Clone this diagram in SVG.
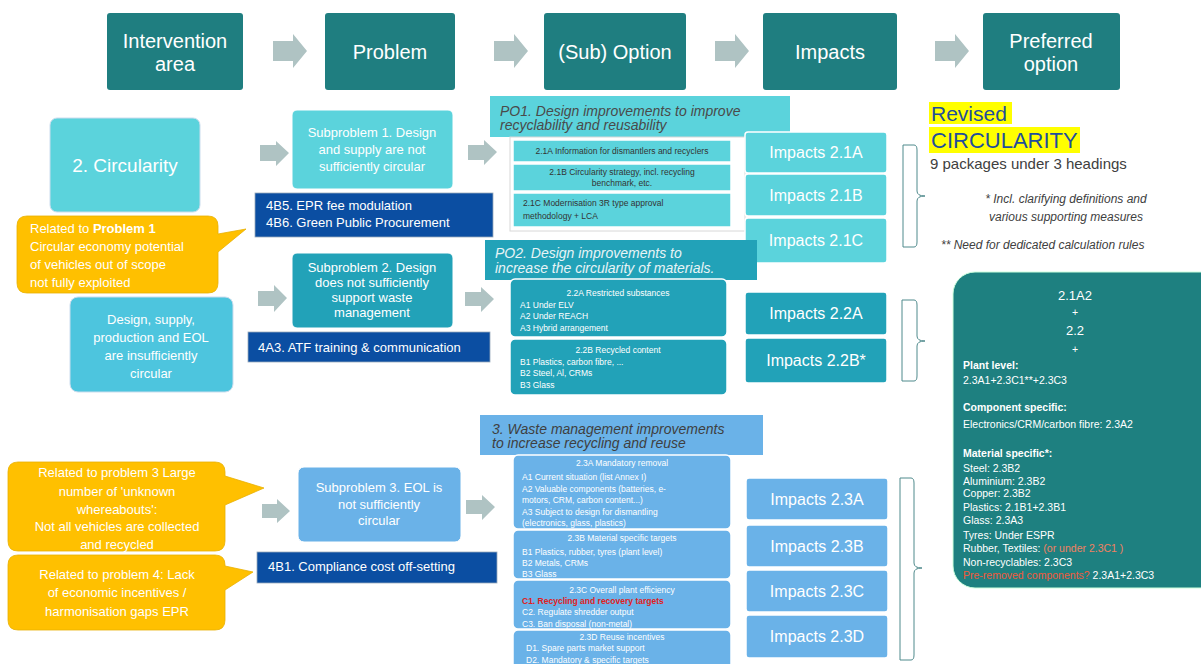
<svg xmlns="http://www.w3.org/2000/svg" width="1201" height="664" viewBox="0 0 1201 664">
<style>
text{font-family:"Liberation Sans",Arial,sans-serif;}
.hdr{fill:#1F7E80;}
.ht{fill:#fff;font-size:20px;text-anchor:middle;}
.arr{fill:#AFC3C3;}
.cy{fill:#5BD3DC;}
.md{fill:#22A2B8;}
.lb{fill:#6AB2E8;}
.db{fill:#0B4EA2;stroke:#9ab;stroke-width:0.8;}
.or{fill:#FFC000;stroke:#E8B000;stroke-width:0.8;}
.wt{fill:#fff;font-size:13px;}
.c{text-anchor:middle;}
.opt{stroke:#fff;stroke-width:1.5;}
.ot{font-size:8.5px;fill:#fff;}
.otd{font-size:8.5px;fill:#333;}
.red{font-size:8.5px;fill:#E02020;font-weight:bold;}
.imp{stroke:#fff;stroke-width:1.5;}
.it{fill:#fff;font-size:16px;text-anchor:middle;}
.po{font-size:14px;font-style:italic;}
.br{fill:none;stroke:#4F8A8C;stroke-width:1;}
.pt{fill:#fff;font-size:10.5px;}
.b{font-weight:bold;}
</style>

<g id="header">
<g id="h-intervention"><rect class="hdr" x="107" y="13" width="136" height="77" rx="3"/><text class="ht" x="175" y="48">Intervention</text><text class="ht" x="175" y="71">area</text></g>
<g id="h-problem"><rect class="hdr" x="325" y="13" width="130" height="77" rx="3"/><text class="ht" x="390" y="59">Problem</text></g>
<g id="h-option"><rect class="hdr" x="544" y="13" width="142" height="77" rx="3"/><text class="ht" x="615" y="59">(Sub) Option</text></g>
<g id="h-impacts"><rect class="hdr" x="763" y="13" width="134" height="77" rx="3"/><text class="ht" x="830" y="59">Impacts</text></g>
<g id="h-preferred"><rect class="hdr" x="983" y="13" width="137" height="77" rx="3"/><text class="ht" x="1051" y="48">Preferred</text><text class="ht" x="1051" y="71">option</text></g>
</g>

<g id="connectors">
<polygon class="arr" points="273,41 293,41 293,34 307,51 293,68 293,61 273,61"/>
<polygon class="arr" points="494,41 514,41 514,34 528,51 514,68 514,61 494,61"/>
<polygon class="arr" points="715,41 735,41 735,34 749,51 735,68 735,61 715,61"/>
<polygon class="arr" points="935,41 955,41 955,34 969,51 955,68 955,61 935,61"/>
<polygon class="arr" points="260,145 276,145 276,141 289,153 276,166 276,161 260,161"/>
<polygon class="arr" points="468,145 484,145 484,140 497,152 484,165 484,160 468,160"/>
<polygon class="arr" points="258,291 274,291 274,285 287,298 274,312 274,306 258,306"/>
<polygon class="arr" points="465,292 481,292 481,287 494,299 481,312 481,306 465,306"/>
<polygon class="arr" points="262,504 277,504 277,499 290,511 277,523 277,518 262,518"/>
<polygon class="arr" points="466,500 482,500 482,495 495,507 482,520 482,514 466,514"/>
<path class="br" d="M914,145 L903,145 L903,247 L914,247 M914,145 Q917,145 917,150 L917,191 Q917,196 925,196 Q917,196 917,201 L917,242 Q917,247 914,247"/>
<path class="br" d="M914,300 L902,300 L902,381 L914,381 M914,300 Q917,300 917,305 L917,336 Q917,341 925,341 Q917,341 917,346 L917,376 Q917,381 914,381"/>
<path class="br" d="M911,478 L900,478 L900,660 L911,660 M911,478 Q914,478 914,483 L914,563 Q914,568 922,568 Q914,568 914,573 L914,655 Q914,660 911,660"/>
</g>

<g id="circularity"><rect x="50" y="118" width="150" height="94" rx="7" fill="#5BD3DC" stroke="#cde" stroke-width="1"/><text class="wt c" x="125" y="172" style="font-size:19px">2. Circularity</text></g>

<g id="callout1"><path class="or" d="M27,216 H208 Q218,216 218,226 V234 L246,229 L218,252 V283 Q218,293 208,293 H27 Q17,293 17,283 V226 Q17,216 27,216 Z"/>
<text class="wt" x="30" y="233">Related to <tspan class="b">Problem 1</tspan></text>
<text class="wt" x="30" y="251">Circular economy potential</text>
<text class="wt" x="30" y="269">of vehicles out of scope</text>
<text class="wt" x="30" y="287">not fully exploited</text></g>

<g id="design-supply"><rect x="70" y="297" width="163" height="95" rx="8" fill="#4DC5DE" stroke="#cde" stroke-width="1"/>
<text class="wt c" x="151" y="324">Design, supply,</text><text class="wt c" x="151" y="342">production and EOL</text><text class="wt c" x="151" y="360">are insufficiently</text><text class="wt c" x="151" y="378">circular</text></g>

<g id="subproblem1"><rect class="cy" x="292" y="110" width="161" height="79" rx="5" stroke="#fff" stroke-width="1"/>
<text class="wt c" x="372" y="137">Subproblem 1. Design</text><text class="wt c" x="372" y="154">and supply are not</text><text class="wt c" x="372" y="171">sufficiently circular</text></g>
<g id="m-4b5"><rect class="db" x="255" y="193" width="238" height="44"/><text class="wt" x="266" y="210">4B5. EPR fee modulation</text><text class="wt" x="266" y="227">4B6. Green Public Procurement</text></g>

<g id="subproblem2"><rect class="md" x="292" y="253" width="161" height="75" rx="5" stroke="#fff" stroke-width="1"/>
<text class="wt c" x="372" y="272">Subproblem 2. Design</text><text class="wt c" x="372" y="287">does not sufficiently</text><text class="wt c" x="372" y="302">support waste</text><text class="wt c" x="372" y="317">management</text></g>
<g id="m-4a3"><rect class="db" x="248" y="332" width="242" height="30"/><text class="wt" x="258" y="352">4A3. ATF training &amp; communication</text></g>

<g id="callout3"><path class="or" d="M18,462 H215 Q225,462 225,472 V476 L264,488 L225,505 V541 Q225,551 215,551 H18 Q8,551 8,541 V472 Q8,462 18,462 Z"/>
<text class="wt c" x="117" y="477">Related to problem 3 Large</text>
<text class="wt c" x="117" y="496">number of 'unknown</text>
<text class="wt c" x="117" y="514">whereabouts':</text>
<text class="wt c" x="117" y="531">Not all vehicles are collected</text>
<text class="wt c" x="117" y="549">and recycled</text></g>
<g id="callout4"><path class="or" d="M18,555 H215 Q225,555 225,565 V566 L253,572 L225,590 V620 Q225,630 215,630 H18 Q8,630 8,620 V565 Q8,555 18,555 Z"/>
<text class="wt c" x="117" y="579">Related to problem 4: Lack</text>
<text class="wt c" x="117" y="597">of economic incentives /</text>
<text class="wt c" x="117" y="616">harmonisation gaps EPR</text></g>

<g id="subproblem3"><rect class="lb" x="298" y="467" width="163" height="75" rx="6" stroke="#fff" stroke-width="1"/>
<text class="wt c" x="379" y="492">Subproblem 3. EOL is</text><text class="wt c" x="379" y="509">not sufficiently</text><text class="wt c" x="379" y="525">circular</text></g>
<g id="m-4b1"><rect class="db" x="257" y="552" width="240" height="31"/><text class="wt" x="268" y="571">4B1. Compliance cost off-setting</text></g>

<g id="po1"><rect class="cy" x="490" y="96" width="300" height="41"/>
<text class="po" x="500" y="116" fill="#4A4A4A">PO1. Design improvements to improve</text>
<text class="po" x="500" y="130" fill="#4A4A4A">recyclability and reusability</text></g>
<g id="o21"><rect x="510" y="137" width="235" height="94" fill="#fff" stroke="#d8d8d8" stroke-width="1"/>
<rect class="cy opt" x="513" y="140" width="218" height="22"/><text class="otd c" x="622" y="154">2.1A Information for dismantlers and recyclers</text>
<rect class="cy opt" x="513" y="164" width="218" height="27"/><text class="otd c" x="622" y="175">2.1B Circularity strategy, incl. recycling</text><text class="otd c" x="622" y="186">benchmark, etc.</text>
<rect class="cy opt" x="513" y="193" width="218" height="34"/><text class="otd" x="523" y="206">2.1C Modernisation 3R type approval</text><text class="otd" x="523" y="219">methodology + LCA</text></g>

<g id="imp21"><rect class="cy imp" x="745" y="132" width="142" height="41" rx="3"/><text class="it" x="816" y="158">Impacts 2.1A</text>
<rect class="cy imp" x="745" y="174" width="142" height="42" rx="3"/><text class="it" x="816" y="201">Impacts 2.1B</text>
<rect class="cy imp" x="745" y="218" width="142" height="45" rx="3"/><text class="it" x="816" y="246">Impacts 2.1C</text></g>

<g id="po2"><rect class="md" x="485" y="240" width="272" height="40"/>
<text class="po" x="495" y="258" fill="#E8F4F6">PO2. Design improvements to</text>
<text class="po" x="495" y="273" fill="#E8F4F6">increase the circularity of materials.</text></g>
<g id="o22"><rect class="md opt" x="510" y="279" width="217" height="58" rx="5"/>
<text class="ot c" x="618" y="296">2.2A Restricted substances</text>
<text class="ot" x="520" y="308">A1   Under ELV</text><text class="ot" x="520" y="319">A2   Under REACH</text><text class="ot" x="520" y="331">A3   Hybrid arrangement</text>
<rect class="md opt" x="510" y="339" width="217" height="56" rx="5"/>
<text class="ot c" x="618" y="353">2.2B Recycled content</text>
<text class="ot" x="520" y="365">B1   Plastics, carbon fibre, ...</text><text class="ot" x="520" y="376">B2   Steel, Al, CRMs</text><text class="ot" x="520" y="388">B3   Glass</text></g>

<g id="imp22"><rect class="md imp" x="745" y="292" width="142" height="43" rx="3"/><text class="it" x="816" y="319">Impacts 2.2A</text>
<rect class="md imp" x="745" y="338" width="142" height="45" rx="3"/><text class="it" x="816" y="366">Impacts 2.2B*</text></g>

<g id="po3"><rect class="lb" x="480" y="415" width="283" height="40"/>
<text class="po" x="492" y="434" fill="#3F3F3F">3. Waste management improvements</text>
<text class="po" x="492" y="448" fill="#3F3F3F">to increase recycling and reuse</text></g>
<g id="o23"><rect class="lb opt" x="513" y="455" width="218" height="74" rx="5"/>
<text class="ot c" x="622" y="466">2.3A Mandatory removal</text>
<text class="ot" x="522" y="480">A1  Current situation (list Annex I)</text>
<text class="ot" x="522" y="492">A2  Valuable components (batteries, e-</text>
<text class="ot" x="522" y="503">motors, CRM, carbon content...)</text>
<text class="ot" x="522" y="515">A3  Subject to design for dismantling</text>
<text class="ot" x="522" y="526">(electronics, glass, plastics)</text>
<rect class="lb opt" x="513" y="530" width="218" height="49" rx="5"/>
<text class="ot c" x="622" y="541">2.3B Material specific targets</text>
<text class="ot" x="522" y="555">B1  Plastics, rubber, tyres (plant level)</text>
<text class="ot" x="522" y="566">B2  Metals, CRMs</text>
<text class="ot" x="522" y="577">B3  Glass</text>
<rect class="lb opt" x="513" y="580" width="218" height="49" rx="5"/>
<text class="ot c" x="622" y="593">2.3C Overall plant efficiency</text>
<text class="red" x="522" y="604">C1. Recycling and recovery targets</text>
<text class="ot" x="522" y="615">C2. Regulate shredder output</text>
<text class="ot" x="522" y="627">C3. Ban disposal (non-metal)</text>
<rect class="lb opt" x="513" y="630" width="218" height="40" rx="5"/>
<text class="ot c" x="622" y="640">2.3D Reuse incentives</text>
<text class="ot" x="526" y="651">D1. Spare parts market support</text>
<text class="ot" x="526" y="663">D2. Mandatory &amp; specific targets</text></g>

<g id="imp23"><rect class="lb imp" x="746" y="478" width="142" height="42" rx="3"/><text class="it" x="817" y="505">Impacts 2.3A</text>
<rect class="lb imp" x="746" y="525" width="142" height="42" rx="3"/><text class="it" x="817" y="552">Impacts 2.3B</text>
<rect class="lb imp" x="746" y="570" width="142" height="42" rx="3"/><text class="it" x="817" y="597">Impacts 2.3C</text>
<rect class="lb imp" x="746" y="615" width="142" height="43" rx="3"/><text class="it" x="817" y="642">Impacts 2.3D</text></g>

<g id="revised">
<rect x="929" y="102" width="83" height="22" fill="#FFFF00"/>
<rect x="929" y="127" width="151" height="26" fill="#FFFF00"/>
<text x="931" y="121" style="font-size:21px" fill="#1F4E9C">Revised</text>
<text x="931" y="148" style="font-size:22px" fill="#1F4E9C">CIRCULARITY</text>
<text x="930" y="169" style="font-size:15px" fill="#404040">9  packages under 3 headings</text>
<text x="1066" y="203" style="font-size:12px;font-style:italic;text-anchor:middle" fill="#404040">* Incl. clarifying definitions and</text>
<text x="1066" y="221" style="font-size:12px;font-style:italic;text-anchor:middle" fill="#404040">various supporting measures</text>
<text x="941" y="249" style="font-size:12px;font-style:italic" fill="#404040">** Need for dedicated calculation rules</text>
</g>

<g id="preferred">
<rect x="953" y="272" width="270" height="316" rx="22" fill="#1E8080" stroke="#cfd" stroke-width="1"/>
<text class="pt c" x="1075" y="300" style="font-size:13px">2.1A2</text>
<text class="pt c" x="1075" y="316">+</text>
<text class="pt c" x="1075" y="335" style="font-size:13px">2.2</text>
<text class="pt c" x="1075" y="353">+</text>
<text class="pt b" x="963" y="369">Plant level:</text>
<text class="pt" x="963" y="384">2.3A1+2.3C1**+2.3C3</text>
<text class="pt b" x="963" y="411">Component specific:</text>
<text class="pt" x="963" y="428">Electronics/CRM/carbon fibre: 2.3A2</text>
<text class="pt b" x="963" y="457">Material specific*:</text>
<text class="pt" x="963" y="472">Steel: 2.3B2</text>
<text class="pt" x="963" y="485">Aluminium: 2.3B2</text>
<text class="pt" x="963" y="497">Copper: 2.3B2</text>
<text class="pt" x="963" y="511">Plastics: 2.1B1+2.3B1</text>
<text class="pt" x="963" y="524">Glass: 2.3A3</text>
<text class="pt" x="963" y="539">Tyres: Under ESPR</text>
<text class="pt" x="963" y="552">Rubber, Textiles: <tspan fill="#F08060">(or under 2.3C1 )</tspan></text>
<text class="pt" x="963" y="566">Non-recyclables: 2.3C3</text>
<text class="pt" x="963" y="579"><tspan fill="#F05A3C">Pre-removed components?</tspan> 2.3A1+2.3C3</text>
</g>
</svg>
